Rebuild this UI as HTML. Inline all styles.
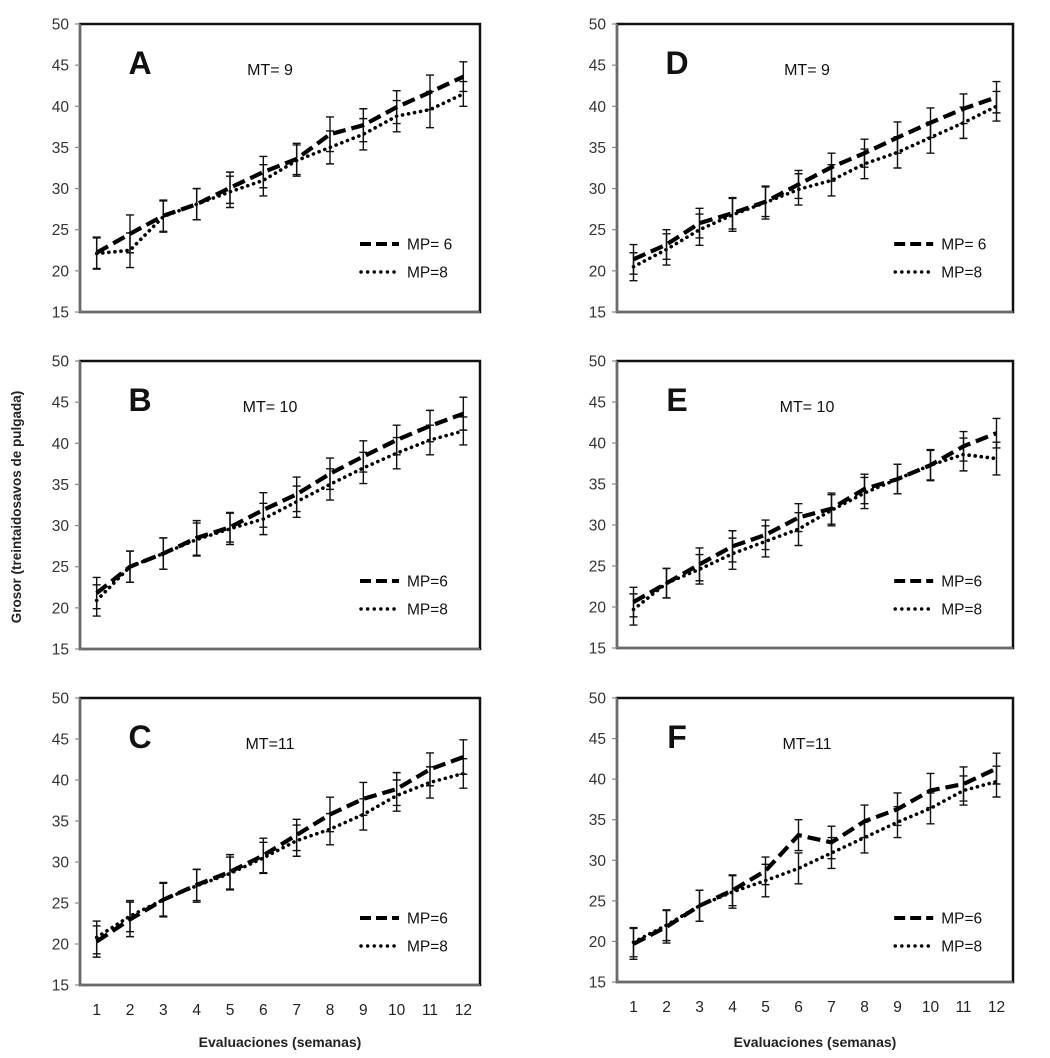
<!DOCTYPE html>
<html><head><meta charset="utf-8">
<style>
html,body{margin:0;padding:0;background:#fff;}
svg{display:block;font-family:"Liberation Sans",sans-serif;}
</style></head>
<body>
<svg id="fig" width="1050" height="1058" viewBox="0 0 1050 1058" xmlns="http://www.w3.org/2000/svg"></svg>
<script>
const categories = [1,2,3,4,5,6,7,8,9,10,11,12];
const yTicks = [15,20,25,30,35,40,45,50];
const panelLetters = ["A","B","C","D","E","F"];
const panelTitles = ["MT= 9","MT= 10","MT=11","MT= 9","MT= 10","MT=11"];
const legend6 = ["MP= 6","MP=6","MP=6","MP= 6","MP=6","MP=6"];
const legend8 = ["MP=8","MP=8","MP=8","MP=8","MP=8","MP=8"];
const mp6A = [22.2,24.5,26.7,28.1,30.1,32.0,33.6,36.6,37.7,39.9,41.7,43.6];
const mp8A = [22.1,22.5,26.6,28.1,29.6,31.0,33.4,35.0,36.6,38.8,39.6,41.5];
const mp6B = [21.8,25.0,26.6,28.5,29.8,31.9,33.8,36.3,38.4,40.4,42.1,43.6];
const mp8B = [20.9,25.0,26.6,28.3,29.6,30.8,32.9,35.0,37.0,38.8,40.4,41.5];
const mp6C = [20.3,23.0,25.4,27.2,28.8,30.8,33.3,35.8,37.7,38.9,41.3,42.8];
const mp8C = [20.8,23.4,25.4,27.1,28.6,30.5,32.6,34.0,35.8,38.1,39.7,40.8];
const mp6D = [21.4,23.2,25.8,27.0,28.4,30.5,32.6,34.3,36.2,38.0,39.7,41.1];
const mp8D = [20.5,22.6,25.0,26.8,28.3,29.9,31.0,33.0,34.4,36.2,38.0,40.0];
const mp6E = [20.6,22.9,25.2,27.4,28.8,30.9,32.0,34.4,35.6,37.3,39.6,41.2];
const mp8E = [19.7,22.9,24.6,26.5,28.0,29.5,31.8,33.9,35.6,37.3,38.6,38.1];
const mp6F = [19.7,21.8,24.4,26.3,28.7,33.1,32.2,34.8,36.3,38.6,39.4,41.3];
const mp8F = [19.9,22.0,24.4,26.1,27.5,29.0,30.9,32.8,34.7,36.4,38.6,39.7];
const errA6 = [1.9,2.3,1.9,1.9,1.9,1.9,1.9,2.1,2.0,2.0,2.1,1.8];
const errA8 = [1.9,2.1,1.9,1.9,1.9,1.9,1.9,2.0,1.9,1.9,2.2,1.5];
const errB6 = [1.9,1.9,1.9,2.1,1.8,2.1,2.1,1.9,1.9,1.8,1.9,2.0];
const errB8 = [1.9,1.9,1.9,2.0,1.9,1.9,1.9,1.9,1.9,1.9,1.8,1.7];
const errC6 = [1.9,2.1,2.1,1.9,2.1,2.1,1.9,2.1,2.0,2.0,2.0,2.1];
const errC8 = [2.0,1.9,2.0,2.0,2.0,1.9,1.9,1.9,1.9,1.9,1.9,1.8];
const errD6 = [1.8,1.8,1.8,1.9,1.8,1.7,1.7,1.7,1.9,1.8,1.8,1.9];
const errD8 = [1.7,1.9,1.9,2.0,2.0,1.9,1.9,1.8,1.9,1.9,1.9,1.8];
const errE6 = [1.8,1.8,2.0,1.9,1.8,1.7,1.9,1.8,1.8,1.8,1.8,1.8];
const errE8 = [1.9,1.8,1.8,1.9,1.9,2.0,1.9,1.9,1.8,1.9,2.0,2.0];
const errF6 = [1.9,2.0,1.9,1.9,1.7,1.9,2.0,2.0,2.0,2.1,2.1,1.9];
const errF8 = [1.8,1.9,1.9,2.0,2.0,1.9,1.9,1.9,1.9,1.9,1.8,1.9];

const series6 = [mp6A,mp6B,mp6C,mp6D,mp6E,mp6F];
const series8 = [mp8A,mp8B,mp8C,mp8D,mp8E,mp8F];
const errs6 = [errA6,errB6,errC6,errD6,errE6,errF6];
const errs8 = [errA8,errB8,errC8,errD8,errE8,errF8];

const NS = "http://www.w3.org/2000/svg";
const svg = document.getElementById("fig");
function mk(tag, attrs, parent){
  const e = document.createElementNS(NS, tag);
  for (const k in attrs) e.setAttribute(k, attrs[k]);
  (parent||svg).appendChild(e);
  return e;
}
const boxes = [
  {x0:80,x1:480,y0:24,y1:312},
  {x0:80,x1:480,y0:361,y1:649},
  {x0:80,x1:480,y0:698,y1:985},
  {x0:617,x1:1013,y0:24,y1:312},
  {x0:617,x1:1013,y0:361,y1:648},
  {x0:617,x1:1013,y0:698,y1:982}
];
boxes.forEach((b,p)=>{
  const g = mk("g",{});
  
  
  const xs = i => b.x0 + (b.x1-b.x0)/categories.length*(i+0.5);
  const ys = v => b.y1 - (v-15)/(50-15)*(b.y1-b.y0);
  const fr = mk("rect",{x:b.x0,y:b.y0,width:b.x1-b.x0,height:b.y1-b.y0,fill:"none",stroke:"#111","stroke-width":2.5},g);
  
  
  mk("line",{x1:b.x0,y1:b.y0,x2:b.x0,y2:b.y1,stroke:"#888","stroke-width":1.5},g);
  mk("line",{x1:b.x0,y1:b.y1,x2:b.x1,y2:b.y1,stroke:"#888","stroke-width":1.5},g);
  yTicks.forEach(t=>{
    mk("line",{x1:b.x0-5,y1:ys(t),x2:b.x0,y2:ys(t),stroke:"#888","stroke-width":1.2},g);
    const tx = mk("text",{x:b.x0-11,y:ys(t)+5.5,"text-anchor":"end","font-size":15.5,fill:"#333"},g);
    tx.textContent = t;
    
    
  });
  if (p===2 || p===5){
    categories.forEach((c,i)=>{
      const tx = mk("text",{x:xs(i),y:b.y1+30,"text-anchor":"middle","font-size":15.5,fill:"#222"},g);
      tx.textContent = c;
      
      
    });
    const xt = mk("text",{x:(b.x0+b.x1)/2,y:1047,"text-anchor":"middle","font-size":14,"font-weight":"bold",fill:"#222"},g);
    xt.textContent = "Evaluaciones  (semanas)";
    xt.setAttribute('xml:space','preserve');
    
    
  }
  const lt = mk("text",{x:b.x0+60,y:b.y0+50,"text-anchor":"middle","font-size":32,"font-weight":"bold",fill:"#111"},g);
  lt.textContent = panelLetters[p];
  
  
  const tt = mk("text",{x:b.x0+190,y:b.y0+51,"text-anchor":"middle","font-size":16,fill:"#111"},g);
  tt.textContent = panelTitles[p];
  
  
  const draw = (vals, errs, dash, width, name)=>{
    errs.forEach((e,i)=>{
      const x = xs(i);
      const eb = mk("path",{d:`M${x},${ys(vals[i]-e)}V${ys(vals[i]+e)}M${x-4},${ys(vals[i]-e)}h8M${x-4},${ys(vals[i]+e)}h8`,stroke:"#111","stroke-width":1.4,fill:"none"},g);
      
      
    });
    const pts = vals.map((v,i)=>xs(i)+","+ys(v)).join(" ");
    const ln = mk("polyline",{points:pts,fill:"none",stroke:"#000","stroke-width":width,"stroke-dasharray":dash,"stroke-linecap":dash.startsWith("0")?"round":"butt"},g);
    
    
  };
  draw(series8[p], errs8[p], "0.1 6", 3.6, "mp8");
  draw(series6[p], errs6[p], "13 6", 4.2, "mp6");
  const lx = b.x0 + (b.x1-b.x0)*0.7;
  const l1 = mk("line",{x1:lx,y1:b.y0+220,x2:lx+39,y2:b.y0+220,stroke:"#000","stroke-width":4,"stroke-dasharray":"11 5"},g);
  
  
  const t1 = mk("text",{x:lx+47,y:b.y0+225.5,"font-size":15.5,fill:"#111"},g);
  t1.textContent = legend6[p];
  
  
  const l2 = mk("line",{x1:lx+1,y1:b.y0+248,x2:lx+39,y2:b.y0+248,stroke:"#000","stroke-width":3.4,"stroke-dasharray":"0.1 6.5","stroke-linecap":"round"},g);
  
  
  const t2 = mk("text",{x:lx+47,y:b.y0+253.5,"font-size":15.5,fill:"#111"},g);
  t2.textContent = legend8[p];
  
  
});
const yt = mk("text",{x:0,y:0,transform:"translate(21,507) rotate(-90)","text-anchor":"middle","font-size":13.5,"font-weight":"bold",fill:"#222"});
yt.textContent = "Grosor (treintaidosavos de pulgada)";


</script>
</body></html>
